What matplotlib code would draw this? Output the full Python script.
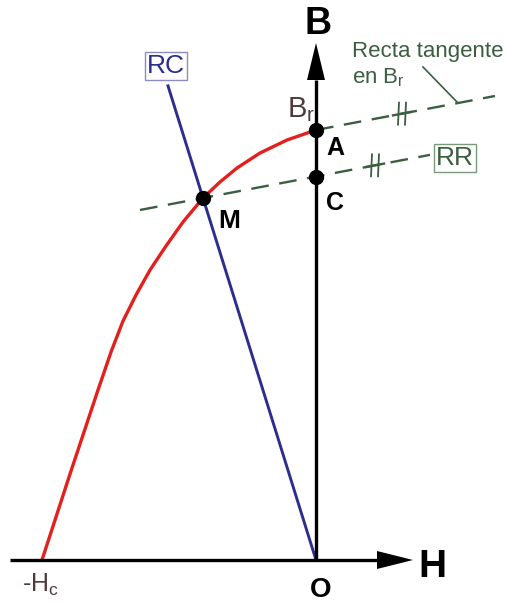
import numpy as np
import matplotlib
matplotlib.use("Agg")
import matplotlib.pyplot as plt

plt.rcParams["font.family"] = ["Liberation Sans", "DejaVu Sans"]
plt.rcParams["mathtext.fontset"] = "custom"
plt.rcParams["mathtext.rm"] = "Liberation Sans"
plt.rcParams["mathtext.it"] = "Liberation Sans"

# -------------------- Demagnetization curve (2nd quadrant) --------------------

Hc = -274.0     # coercive field
Br = 430.0      # remanence

curve_H = [-274, -260, -246, -232, -218, -205, -193, -180, -166, -150, -133,
           -113, -96, -79, -56, -29, 0]
curve_B = [0, 43, 86, 128, 170, 208, 239, 265, 290, 314, 338,
           362, 378, 392, 407, 420, 430]

# working point M (curve / load line intersection)
M_H, M_B = -113.0, 362.0

# load line RC, from the origin through M
rc_H = [0.0, -148.0]

# slope of the tangent at Br and of the recoil line RR
tan_slope = 0.19
tan_H = [0.0, 179.0]
rr_H = [-176.0, 114.0]

C_B = M_B - tan_slope * M_H

RED = "#e4201c"
NAVY = "#2b2e8c"
GREEN = "#3b5e41"
BROWN = "#4e3a3c"

fig = plt.figure(figsize=(5.10, 6.09), dpi=100)
ax = fig.add_axes([0, 0, 1, 1])
ax.set_xlim(-316, 194)
ax.set_ylim(-49, 560)
ax.axis("off")

# axes with arrows
ax.plot([-306, 75], [0, 0], color="black", lw=2.4, solid_capstyle="butt", zorder=3)
ax.plot([0, 0], [0, 480], color="black", lw=2.4, solid_capstyle="butt", zorder=3)
ax.fill([61, 97, 61], [9, 0, -9], color="black", lw=0, zorder=3)
ax.fill([-9, 0, 9], [480, 517, 480], color="black", lw=0, zorder=3)

# B(H) curve
ax.plot(curve_H, curve_B, color=RED, lw=2.4, solid_joinstyle="round",
        solid_capstyle="round", zorder=2)

# load line RC
rc_B = [M_B / M_H * h for h in rc_H]
ax.plot(rc_H, rc_B, color=NAVY, lw=2.1, zorder=2)

# tangent at Br and recoil line RR
dash = (0, (7.5, 4.5))
tan_B = [Br + tan_slope * h for h in tan_H]
ax.plot(tan_H, tan_B, color=GREEN, lw=1.7, linestyle=dash, zorder=1)
rr_B = [C_B + tan_slope * h for h in rr_H]
ax.plot(rr_H, rr_B, color=GREEN, lw=1.7, linestyle=dash, zorder=1)

# parallel marks
for h0, b0 in [(86, Br + tan_slope * 86), (59, C_B + tan_slope * 59)]:
    ax.plot([h0 - 9, h0 + 9], [b0 - 9 * tan_slope, b0 + 9 * tan_slope],
            color=GREEN, lw=1.7, zorder=1)
    for dh in (-3.5, 3.5):
        ax.plot([h0 + dh - 0.5, h0 + dh + 0.5], [b0 - 11, b0 + 11],
                color=GREEN, lw=1.3, zorder=1)

# leader for the tangent label
lh = 142.0
ax.plot([107, lh], [493, Br + tan_slope * lh], color=GREEN, lw=1.2, zorder=1)

# points A, C, M
ax.plot([0, 0, M_H], [Br, C_B, M_B], "o", color="black", ms=10, zorder=4)

# labels
ax.text(2, 536, "B", fontsize=27, fontweight="bold", ha="center", va="center")
ax.text(116, -7, "H", fontsize=28, fontweight="bold", ha="center", va="center")
ax.text(5, -30, "O", fontsize=20, fontweight="bold", ha="center", va="center")
ax.text(19, Br - 18, "A", fontsize=18, fontweight="bold", ha="center", va="center")
ax.text(19, C_B - 26, "C", fontsize=18, fontweight="bold", ha="center", va="center")
ax.text(M_H + 26, M_B - 23, "M", fontsize=19, fontweight="bold", ha="center", va="center")
ax.text(Hc - 2, -25, "-H$_\\mathrm{c}$", fontsize=18, color=BROWN, ha="center", va="center")
ax.text(-15, 450, "B$_\\mathrm{r}$", fontsize=21, color=BROWN, ha="center", va="center")
ax.text(-150, 494, "RC", fontsize=19, color=NAVY, ha="center", va="center",
        bbox=dict(boxstyle="square,pad=0.08", fc="white", ec="#8c8cc0", lw=1.0))
ax.text(139, 402, "RR", fontsize=19, color=GREEN, ha="center", va="center",
        bbox=dict(boxstyle="square,pad=0.08", fc="white", ec="#7a9a7c", lw=1.0))
ax.text(36, 508, "Recta tangente", fontsize=16, color=GREEN, ha="left", va="center")
ax.text(36, 482, "en B$_\\mathrm{r}$", fontsize=16, color=GREEN, ha="left", va="center")

fig.savefig("out.png", dpi=100)
